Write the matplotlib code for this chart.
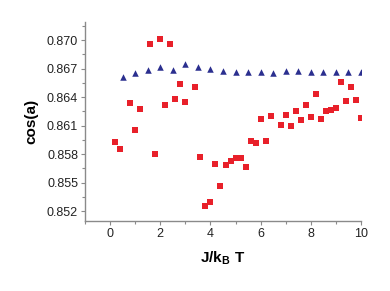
import matplotlib
matplotlib.use("Agg")
import matplotlib.pyplot as plt
from matplotlib.ticker import MultipleLocator

# ========== DATA ==========
tri_x = [0.5, 1.0, 1.5, 2.0, 2.5, 3.0, 3.5, 4.0, 4.5, 5.0,
         5.5, 6.0, 6.5, 7.0, 7.5, 8.0, 8.5, 9.0, 9.5, 10.0]
tri_y = [0.86607, 0.86653, 0.86681, 0.86719, 0.86681, 0.86747, 0.86716, 0.86691, 0.86670, 0.86667,
         0.86663, 0.86660, 0.86656, 0.86674, 0.86670, 0.86660, 0.86667, 0.86663, 0.86667, 0.86663]

sq_x = [0.2, 0.4, 0.8, 1.0, 1.2, 1.6, 1.8, 2.0, 2.2, 2.4,
        2.6, 2.8, 3.0, 3.4, 3.6, 3.8, 4.0, 4.2, 4.4, 4.6,
        4.8, 5.0, 5.2, 5.4, 5.6, 5.8, 6.0, 6.2, 6.4, 6.8,
        7.0, 7.2, 7.4, 7.6, 7.8, 8.0, 8.2, 8.4, 8.6, 8.8,
        9.0, 9.2, 9.4, 9.6, 9.8, 10.0]
sq_y = [0.85926, 0.85853, 0.86340, 0.86053, 0.86274, 0.86955, 0.85800, 0.87011, 0.86319, 0.86955,
        0.86376, 0.86537, 0.86344, 0.86509, 0.85772, 0.85256, 0.85291, 0.85692, 0.85463, 0.85681,
        0.85723, 0.85758, 0.85758, 0.85667, 0.85933, 0.85912, 0.86165, 0.85937, 0.86197, 0.86109,
        0.86211, 0.86091, 0.86253, 0.86158, 0.86312, 0.86186, 0.86435, 0.86168, 0.86249, 0.86267,
        0.86281, 0.86561, 0.86358, 0.86509, 0.86365, 0.86182]

xticks = [0, 2, 4, 6, 8, 10]
yticks = [0.852, 0.855, 0.858, 0.861, 0.864, 0.867, 0.870]

# ========== PLOT ==========
plt.rcParams['font.family'] = ['Liberation Sans', 'DejaVu Sans']
plt.rcParams['mathtext.fontset'] = 'custom'
plt.rcParams['mathtext.bf'] = 'Liberation Sans:bold'
plt.rcParams['mathtext.rm'] = 'Liberation Sans'

fig = plt.figure(figsize=(3.9, 2.91), dpi=100)
ax = fig.add_axes([85/390, 1 - 221/291, 276/390, 199/291])

ax.scatter(sq_x, sq_y, marker="s", s=16, color="#e8202a", linewidths=0, zorder=3)
ax.scatter(tri_x, tri_y, marker="^", s=22, color="#2b2f8f", linewidths=0, zorder=3)

ax.set_xlim(-1, 10)
ax.set_ylim(0.85095, 0.8719)
ax.set_xticks(xticks)
ax.set_yticks(yticks)
ax.set_yticklabels([f"{v:.3f}" for v in yticks])
ax.xaxis.set_minor_locator(MultipleLocator(1))
ax.yaxis.set_minor_locator(MultipleLocator(0.0015))

for side in ["top", "right"]:
    ax.spines[side].set_visible(False)
for side in ["left", "bottom"]:
    ax.spines[side].set_color("#8a8a8a")
    ax.spines[side].set_linewidth(1.0)

ax.tick_params(which="major", direction="out", length=3, width=0.8, color="#8a8a8a",
               labelsize=9, labelcolor="#222222", pad=2)
ax.tick_params(which="minor", direction="out", length=2, width=0.8, color="#8a8a8a")

ax.set_xlabel(r"$\mathbf{J/k_{B}\ T}$", fontsize=11, labelpad=7)
ax.set_ylabel("cos(a)", fontsize=11, fontweight="bold", labelpad=6)

fig.savefig("out.png", dpi=100)
